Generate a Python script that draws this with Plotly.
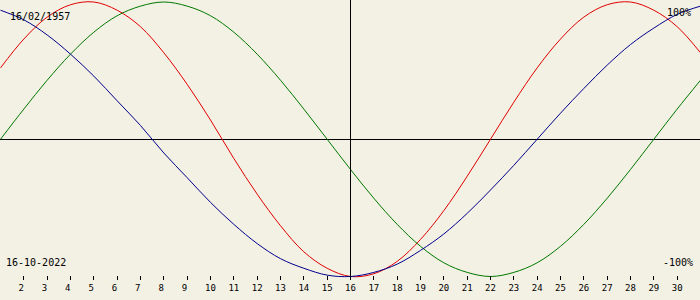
import plotly.graph_objects as go

days = list(range(1, 32))
physical = [52, 73, 89, 98, 100, 94, 82, 63, 40, 14, -14, -40, -63, -82, -94, -100,
            -98, -89, -73, -52, -27, 0, 27, 52, 73, 89, 98, 100, 94, 82, 63]
emotional = [0, 22, 43, 62, 78, 90, 97, 100, 97, 90, 78, 62, 43, 22, 0, -22,
             -43, -62, -78, -90, -97, -100, -97, -90, -78, -62, -43, -22, 0, 22, 43]
intellectual = [94, 87, 76, 62, 46, 28, 10, -10, -28, -46, -62, -76, -87, -94, -99, -100,
                -97, -91, -81, -69, -54, -37, -19, 0, 19, 37, 54, 69, 81, 91, 97]
tick_days = list(range(2, 31))
tick_text = [(str(d) + "\u00a0") if d < 10 else str(d) for d in tick_days]
today = 16
birth_label = "16/02/1957"
today_label = "16-10-2022"

BG = "#f3f0e4"
FONT = "DejaVu Sans Mono"
half_px = 0.5 / (700 / 30)

fig = go.Figure()
for vals, col in [(physical, "#e00000"), (emotional, "#007800"), (intellectual, "#00008c")]:
    fig.add_trace(go.Scatter(x=days, y=vals, mode="lines",
                             line=dict(color=col, width=1, shape="spline", smoothing=1.0),
                             hoverinfo="skip", showlegend=False))

fig.add_shape(type="line", xref="x", yref="y", x0=today, x1=today, y0=-100, y1=102,
              line=dict(color="black", width=1))

fig.update_layout(
    width=700, height=300, margin=dict(l=0, r=0, t=0, b=0),
    paper_bgcolor=BG, plot_bgcolor=BG,
    xaxis=dict(range=[1 - half_px, 31 - half_px], tickvals=tick_days, ticktext=tick_text,
               anchor="free", position=(300 - 275) / 300, showline=False,
               showgrid=False, zeroline=False, ticks="outside", ticklen=4,
               tickcolor="black", tickwidth=1,
               tickfont=dict(family=FONT, size=9, color="black")),
    yaxis=dict(range=[-117.12, 101.457], showgrid=False, showticklabels=False,
               zeroline=True, zerolinecolor="black", zerolinewidth=1, ticks=""),
    annotations=[
        dict(text=birth_label, xref="paper", yref="paper", x=8 / 700, y=1 - 17 / 300,
             xanchor="left", yanchor="middle", showarrow=False,
             font=dict(family=FONT, size=10, color="black")),
        dict(text="100%", xref="paper", yref="paper", x=693 / 700, y=1 - 12 / 300,
             xanchor="right", yanchor="middle", showarrow=False,
             font=dict(family=FONT, size=10, color="black")),
        dict(text=today_label, xref="paper", yref="paper", x=4 / 700, y=1 - 262 / 300,
             xanchor="left", yanchor="middle", showarrow=False,
             font=dict(family=FONT, size=10, color="black")),
        dict(text="-100%", xref="paper", yref="paper", x=695 / 700, y=1 - 262 / 300,
             xanchor="right", yanchor="middle", showarrow=False,
             font=dict(family=FONT, size=10, color="black")),
    ],
)

fig.write_html("out.html")
